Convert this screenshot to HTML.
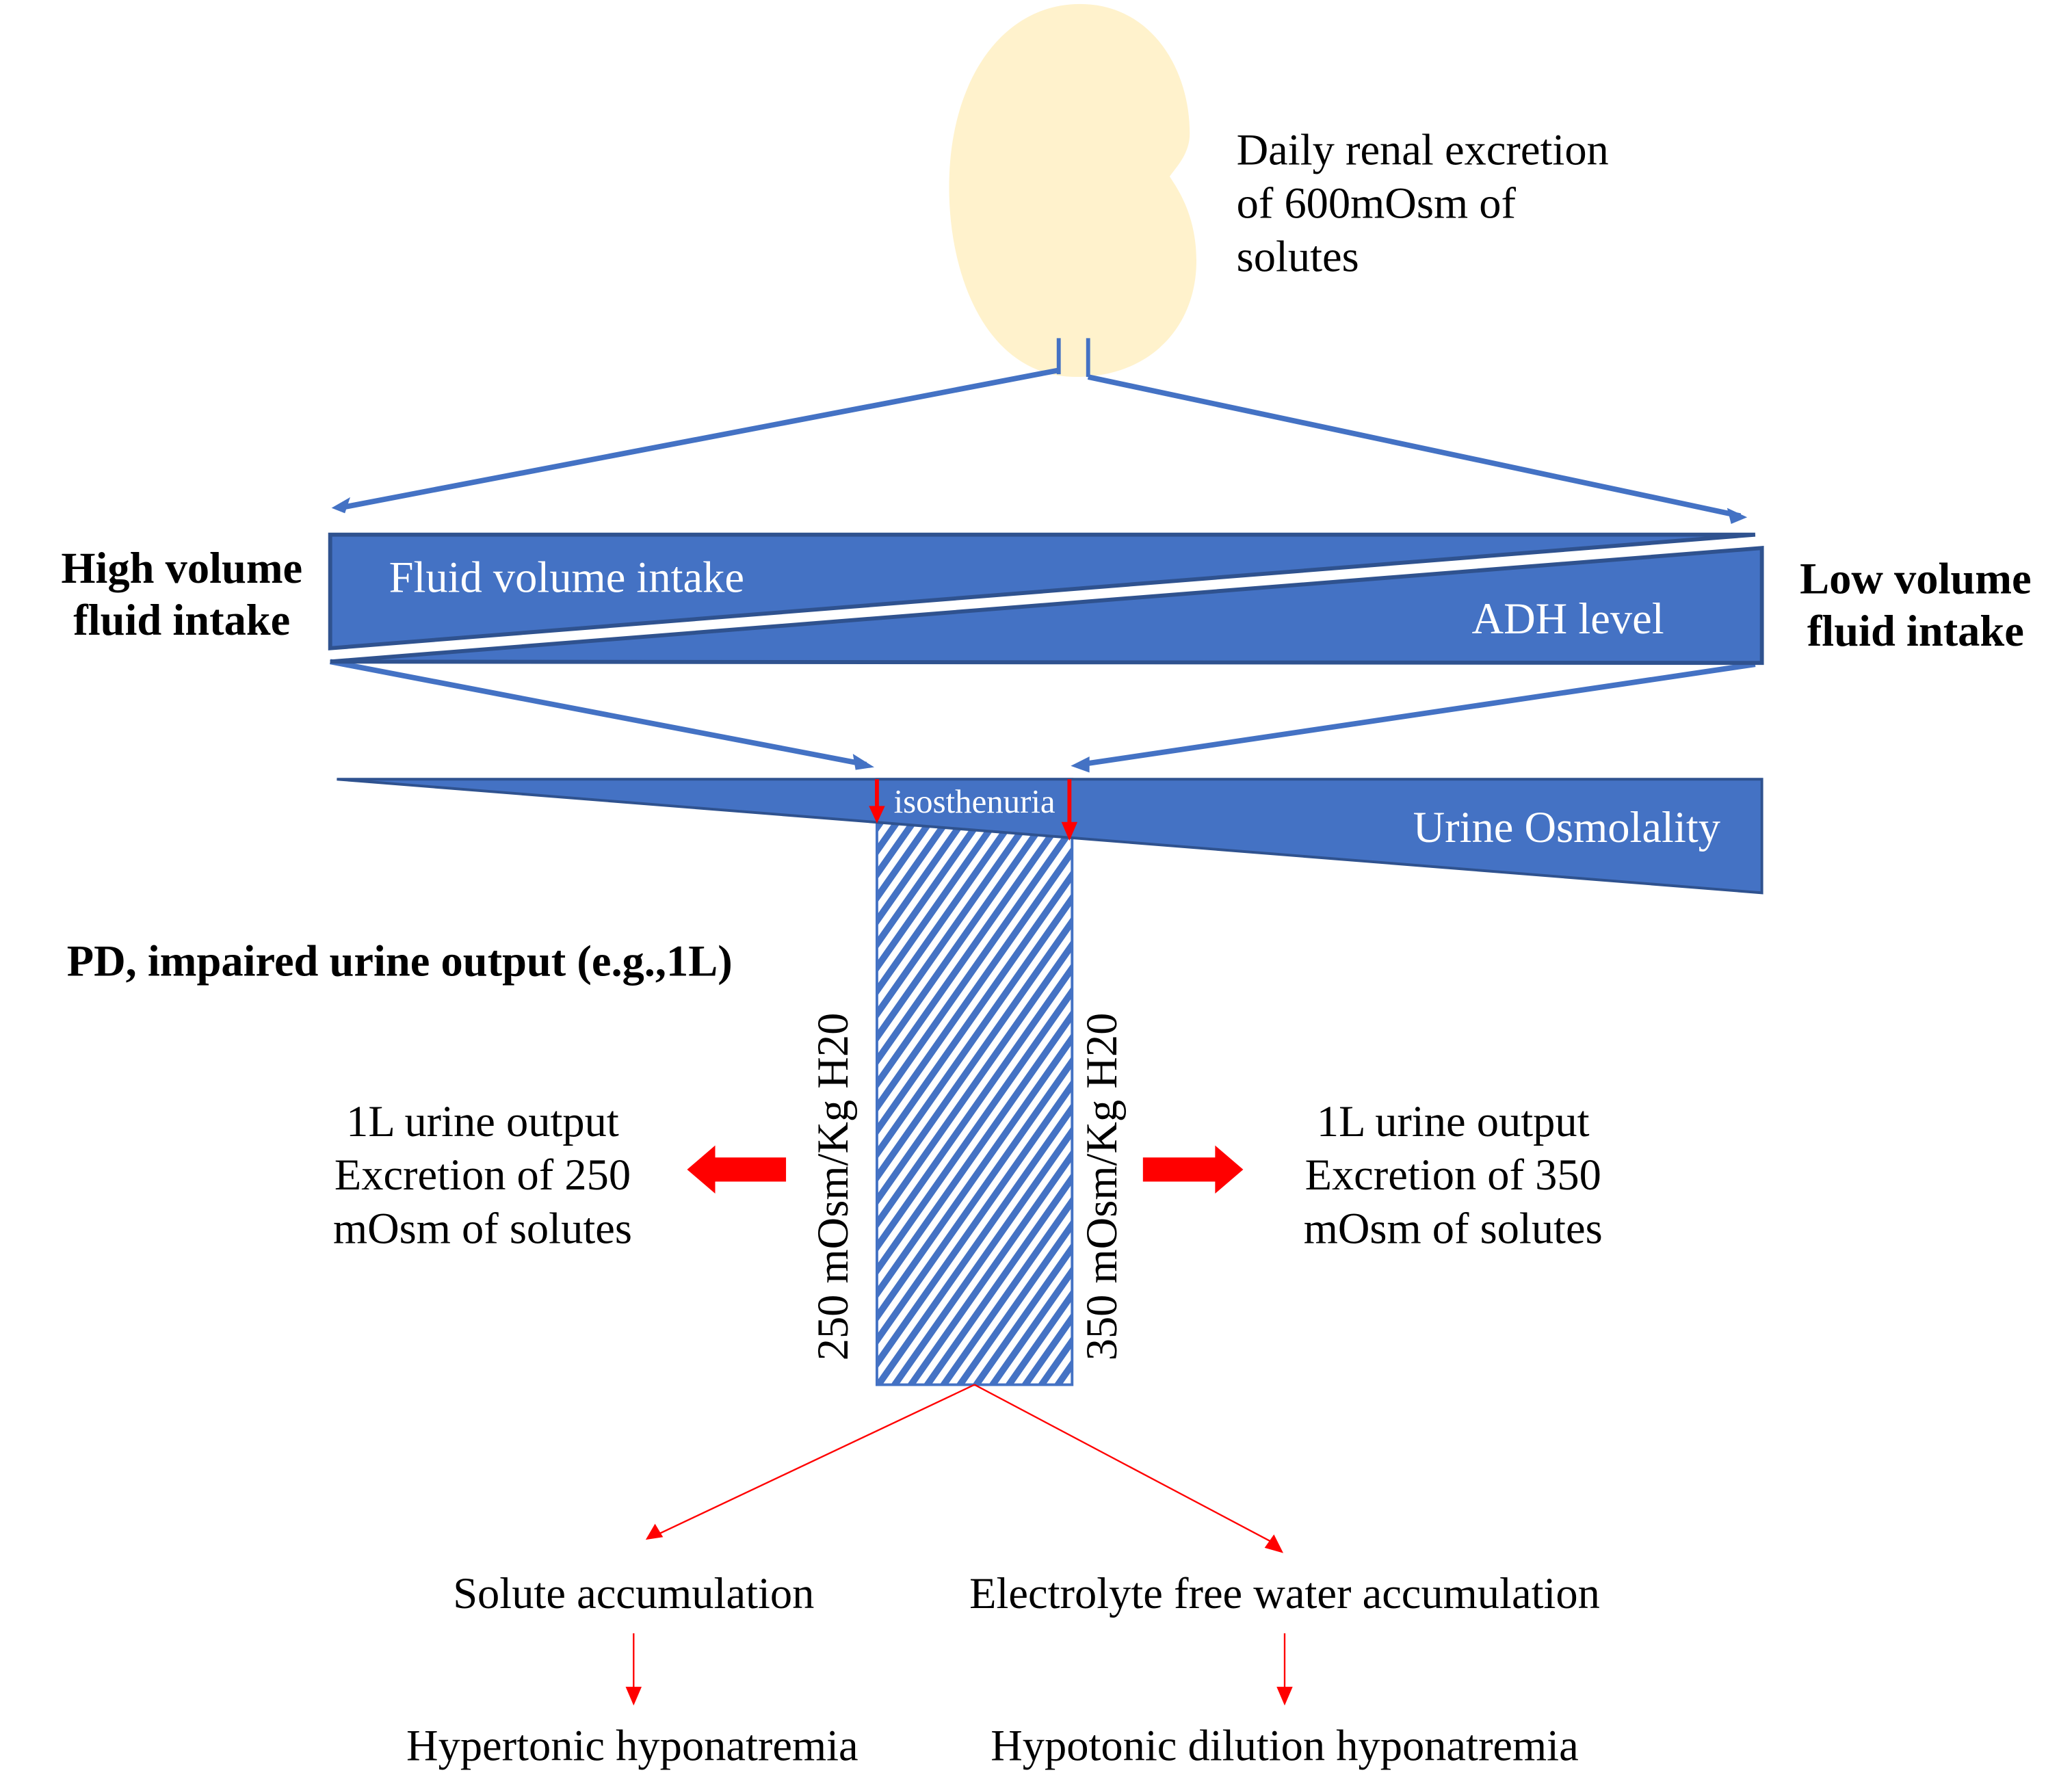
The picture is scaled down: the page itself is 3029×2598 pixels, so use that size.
<!DOCTYPE html>
<html><head><meta charset="utf-8"><style>html,body{margin:0;padding:0;background:#fff}svg{display:block}</style></head>
<body>
<svg width="3029" height="2598" viewBox="0 0 1550 1329.5" preserveAspectRatio="none" xmlns="http://www.w3.org/2000/svg" font-family="'Liberation Serif', serif">
<defs>
<pattern id="h" patternUnits="userSpaceOnUse" width="10" height="10" patternTransform="rotate(35)">
<rect width="10" height="10" fill="#fff"/><rect width="5" height="10" fill="#4472C4"/></pattern>
</defs>
<path d="M805 282 C740 282 710 210 710 140 C710 60 750 3 808 3 C860 3 890 50 890 100 C890 115 880 125 875 132 C880 140 895 160 895 195 C895 245 860 282 805 282 Z" fill="#FFF2CC"/>
<line x1="792" y1="253" x2="792" y2="280" stroke="#4472C4" stroke-width="3"/>
<line x1="814" y1="253" x2="814" y2="282" stroke="#4472C4" stroke-width="3"/>
<g stroke="#4472C4" stroke-width="4" fill="none">
<line x1="792" y1="277" x2="254" y2="380"/>
<line x1="814" y1="282" x2="1302" y2="386"/>
<line x1="247" y1="495" x2="648" y2="572"/>
<line x1="1313" y1="497" x2="808" y2="572"/>
</g>
<g fill="#4472C4">
<path d="M248,380 L262,372 L258,384 Z"/>
<path d="M1307,387 L1292,380 L1295,392 Z"/>
<path d="M654,574 L638,564 L640,576 Z"/>
<path d="M801,573 L815,566 L815,578 Z"/>
</g>
<polygon points="247,400 1313,400 247,485" fill="#4472C4" stroke="#2F528F" stroke-width="3"/>
<polygon points="247,495 1318,410 1318,496" fill="#4472C4" stroke="#2F528F" stroke-width="3"/>
<rect x="656" y="583" width="146" height="453" fill="url(#h)" stroke="#4472C4" stroke-width="2"/>
<polygon points="252,583 1318,583 1318,668" fill="#4472C4" stroke="#2F528F" stroke-width="2"/>
<g stroke="#f00" stroke-width="3"><line x1="656" y1="583" x2="656" y2="605"/><line x1="800" y1="583" x2="800" y2="617"/></g>
<path d="M650,603 L662,603 L656,616 Z M794,615 L806,615 L800,629 Z" fill="#f00"/>
<g fill="#fff" font-size="33">
<text x="291" y="443">Fluid volume intake</text>
<text x="1101" y="474">ADH level</text>
<text x="1057" y="630">Urine Osmolality</text>
<text x="729" y="608" font-size="25" text-anchor="middle">isosthenuria</text>
</g>
<g font-size="33" fill="#000">
<text x="925" y="123">Daily renal excretion</text>
<text x="925" y="163">of 600mOsm of</text>
<text x="925" y="203">solutes</text>
<g font-weight="bold" text-anchor="middle">
<text x="136" y="436">High volume</text>
<text x="136" y="475">fluid intake</text>
<text x="1433" y="444">Low volume</text>
<text x="1433" y="483">fluid intake</text>
<text x="50" y="730" text-anchor="start">PD, impaired urine output (e.g.,1L)</text>
</g>
<text transform="translate(634,1018) rotate(-90)">250 mOsm/Kg H20</text>
<text transform="translate(835,1018) rotate(-90)">350 mOsm/Kg H20</text>
<g text-anchor="middle">
<text x="361" y="850">1L urine output</text>
<text x="361" y="890">Excretion of 250</text>
<text x="361" y="930">mOsm of solutes</text>
<text x="1087" y="850">1L urine output</text>
<text x="1087" y="890">Excretion of 350</text>
<text x="1087" y="930">mOsm of solutes</text>
<text x="474" y="1203">Solute accumulation</text>
<text x="961" y="1203">Electrolyte free water accumulation</text>
<text x="473" y="1317">Hypertonic hyponatremia</text>
<text x="961" y="1317">Hypotonic dilution hyponatremia</text>
</g>
</g>
<path d="M514,875 L535,857 L535,866 L588,866 L588,884 L535,884 L535,893 Z" fill="#f00"/>
<path d="M930,875 L909,857 L909,866 L855,866 L855,884 L909,884 L909,893 Z" fill="#f00"/>
<g stroke="#f00" stroke-width="1.2">
<line x1="729" y1="1036" x2="492" y2="1148"/>
<line x1="729" y1="1036" x2="952" y2="1154"/>
<line x1="474" y1="1222" x2="474" y2="1266"/>
<line x1="961" y1="1222" x2="961" y2="1266"/>
</g>
<path d="M483,1152 L490,1140 L496,1150 Z M960,1162 L946,1158 L953,1148 Z M468,1262 L480,1262 L474,1276 Z M955,1262 L967,1262 L961,1276 Z" fill="#f00"/>
</svg>
</body></html>
